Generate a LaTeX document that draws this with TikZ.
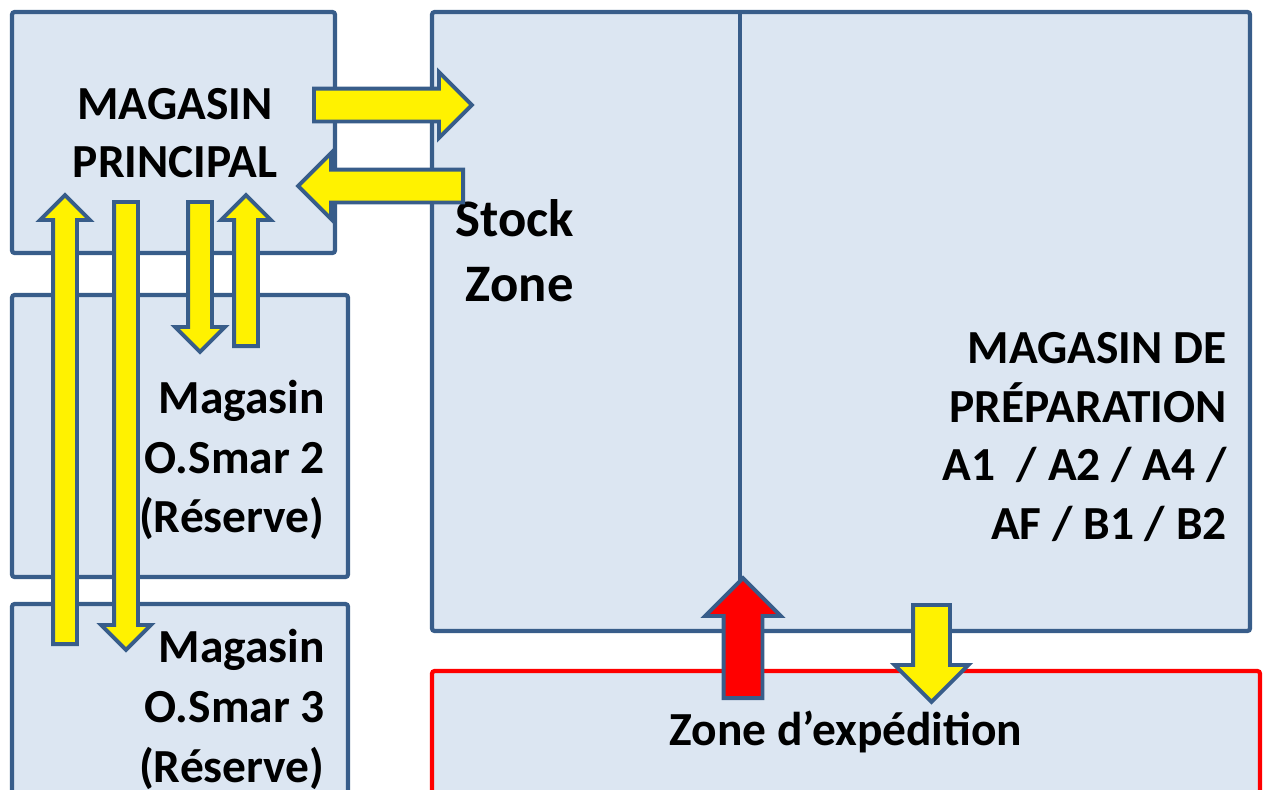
\documentclass[tikz,border=0pt]{standalone}
\usepackage{fontspec}
\setmainfont{Carlito}
\usetikzlibrary{shapes.arrows}

\definecolor{bord}{RGB}{56,93,138}
\definecolor{fond}{RGB}{220,230,242}

\begin{document}
\begin{tikzpicture}[
  zone/.style={draw=bord,fill=fond,line width=2.4pt,rounded corners=1.5pt,
               inner sep=0pt},
  lbl/.style={font=\fontsize{27}{33}\selectfont\bfseries,inner sep=0pt},
  flux/.style={single arrow,draw=bord,fill=yellow,line width=2.2pt,
               single arrow head indent=0pt,anchor=tail},
  thinarrow/.style={flux,inner sep=0.2cm,single arrow head extend=0.26cm},
  bigarrow/.style={flux,inner sep=0.29cm,single arrow head extend=0.33cm},
]

\clip (0,0) rectangle (25.26,-15.78);

% Zones
\node[zone,minimum width=6.46cm,minimum height=4.82cm] (princ) at (3.47,-2.65) {};
\node[zone,minimum width=6.72cm,minimum height=5.64cm] (smar2) at (3.60,-8.72) {};
\node[zone,minimum width=6.72cm,minimum height=5.92cm] (smar3) at (3.60,-15.04) {};
\node[zone,minimum width=16.36cm,minimum height=12.38cm] (prep) at (16.82,-6.43) {};
\node[zone,draw=red,minimum width=16.56cm,minimum height=4.58cm] (exped) at (16.92,-15.71) {};

% Divider inside the preparation zone
\coordinate (divtop) at (14.8,-0.24);
\coordinate (divbot) at (14.8,-11.66);
\draw[draw=bord,line width=2.4pt] (divtop) -- (divbot);

% Labels
\node[lbl,align=center] (tprinc) at (3.5,-2.67) {MAGASIN\\PRINCIPAL};
\node[lbl,align=right,anchor=east,font=\fontsize{30}{37}\selectfont\bfseries]
  (tstock) at (11.48,-5.02) {Stock\\Zone};
\node[lbl,align=right,anchor=east,font=\fontsize{27}{34}\selectfont\bfseries]
  (tsmar2) at (6.5,-9.2) {Magasin\\O.Smar 2\\(Réserve)};
\node[lbl,align=right,anchor=east,font=\fontsize{27}{34}\selectfont\bfseries]
  (tsmar3) at (6.5,-14.19) {Magasin\\O.Smar 3\\(Réserve)};
\node[lbl,align=right,anchor=east,font=\fontsize{27}{33.3}\selectfont\bfseries]
  (tprep) at (24.54,-8.74) {MAGASIN DE\\PRÉPARATION\\A1~ / A2 / A4 /\\AF / B1 / B2};
\node[lbl,anchor=base] (texped) at (16.92,-14.9) {Zone d’expédition};

% Arrows between principal and preparation
\node[bigarrow,minimum height=3.16cm] (versprep) at (6.24,-2.10) {};
\node[bigarrow,minimum height=3.30cm,rotate=180] (versprinc) at (9.30,-3.72) {};

% Arrows between principal and reserves
\node[thinarrow,minimum height=8.98cm,rotate=90] (up3) at (1.30,-12.92) {};
\node[thinarrow,minimum height=8.96cm,rotate=-90] (down3) at (2.52,-4.00) {};
\node[thinarrow,minimum height=3.00cm,rotate=-90] (down2) at (4.00,-4.00) {};
\node[thinarrow,minimum height=3.02cm,rotate=90] (up2) at (4.92,-6.96) {};

% Shipping arrows
\node[flux,fill=red,inner sep=0.35cm,single arrow head extend=0.37cm,
      minimum height=2.4cm,rotate=90] (retour) at (14.86,-14.0) {};
\node[flux,inner sep=0.33cm,single arrow head extend=0.37cm,
      minimum height=1.94cm,rotate=-90] (envoi) at (18.63,-12.06) {};

\end{tikzpicture}
\end{document}
